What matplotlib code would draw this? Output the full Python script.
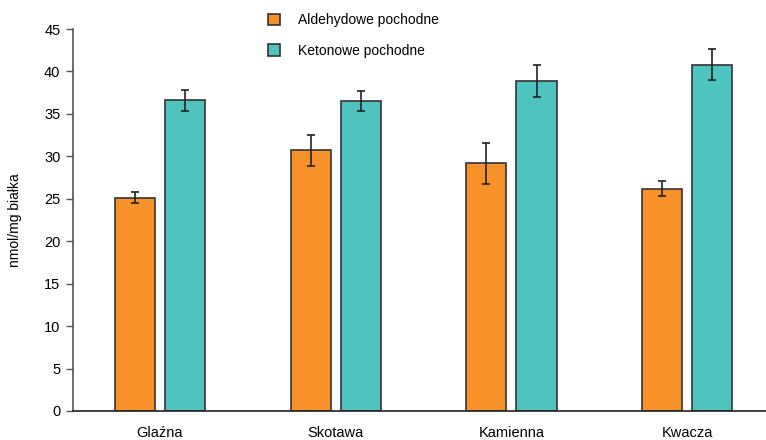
import matplotlib
matplotlib.use("Agg")
import matplotlib.pyplot as plt
import numpy as np

plt.rcParams['font.family'] = ['Liberation Sans Narrow', 'Liberation Sans', 'DejaVu Sans']

sites = ['Glaźna', 'Skotawa', 'Kamienna', 'Kwacza']
aldehyde = [25.1, 30.7, 29.2, 26.2]
aldehyde_err = [0.65, 1.8, 2.4, 0.9]
ketone = [36.6, 36.5, 38.9, 40.8]
ketone_err = [1.2, 1.2, 1.9, 1.8]
series_names = ['Aldehydowe pochodne', 'Ketonowe pochodne']

orange = '#F7922A'
teal = '#4FC3BE'
edge = '#333333'

fig = plt.figure(figsize=(7.66, 4.40), dpi=100)
ax = fig.add_axes([0.0953, 0.066, 0.9047, 0.868])

x = np.arange(len(sites))
w = 0.228
off = 0.143
err_kw = dict(ecolor='#222222', elinewidth=1.2, capsize=3, capthick=1.2)
b1 = ax.bar(x - off, aldehyde, w, yerr=aldehyde_err, color=orange,
            edgecolor=edge, linewidth=1.2, error_kw=err_kw, label=series_names[0])
b2 = ax.bar(x + off, ketone, w, yerr=ketone_err, color=teal,
            edgecolor=edge, linewidth=1.2, error_kw=err_kw, label=series_names[1])

ax.set_xlim(-0.495, 3.449)
ax.set_ylim(0, 45)
ax.set_yticks(np.arange(0, 46, 5))
ax.set_xticks(x)
ax.set_xticklabels(sites, fontsize=10.5)
ax.tick_params(axis='x', length=0, pad=11)
ax.tick_params(axis='y', labelsize=10.5, length=5, width=1, color='#555555', pad=4)

for s in ['top', 'right']:
    ax.spines[s].set_visible(False)
ax.spines['left'].set_color('#555555')
ax.spines['left'].set_linewidth(1.2)
ax.spines['bottom'].set_color('#222222')
ax.spines['bottom'].set_linewidth(1.2)

ax.set_ylabel('nmol/mg białka', fontsize=10, labelpad=16)

leg = fig.legend(handles=[b1, b2], labels=series_names, loc='upper left',
                 bbox_to_anchor=(0.333, 0.998), frameon=False, fontsize=10,
                 handlelength=0.9, handleheight=0.9, handletextpad=1.3,
                 labelspacing=1.2)

fig.savefig('out.png', dpi=100)
